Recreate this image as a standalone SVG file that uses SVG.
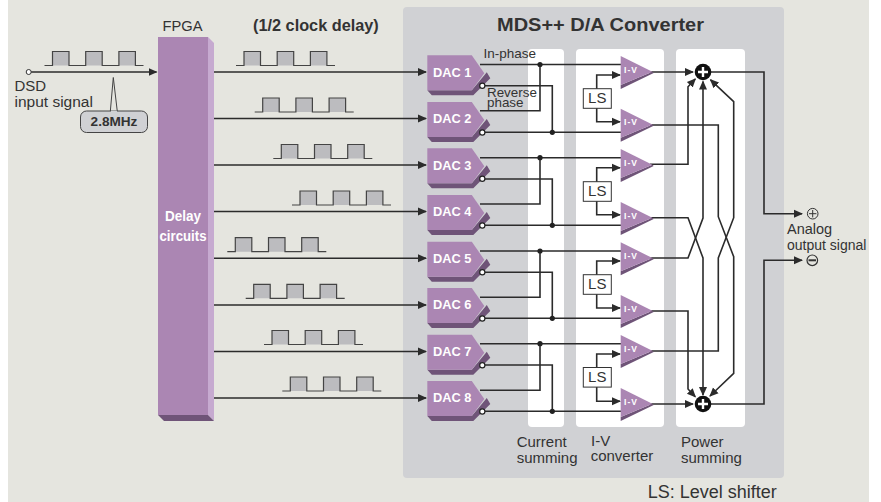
<svg xmlns="http://www.w3.org/2000/svg" xmlns:xlink="http://www.w3.org/1999/xlink" width="881" height="502" viewBox="0 0 881 502">
<style>
text{font-family:"Liberation Sans",Arial,sans-serif;fill:#333}
.b{font-weight:bold}
.w{fill:#fff;font-weight:bold}
.t{font-size:15px}
.dac{font-size:12.8px;fill:#fff;font-weight:bold}
.wire{fill:none;stroke:#2b2b2b;stroke-width:1.6}
.arr{marker-end:url(#ah)}
.dot{fill:#222}
.wave{fill:#bcbcbf}
.waveline{fill:none;stroke:#444;stroke-width:1.2}
</style>
<defs>
<marker id="ah" markerUnits="userSpaceOnUse" markerWidth="10" markerHeight="10" viewBox="0 0 10 10" refX="8" refY="5" orient="auto"><path d="M0 1L9 5L0 9Z" fill="#2b2b2b"/></marker>
<g id="pulse">
<path class="wave" d="M8 14V0H24.5V14ZM41.2 14V0H57.7V14ZM74.4 14V0H90.9V14Z"/>
<path class="waveline" d="M0 14H8V0H24.5V14H41.2V0H57.7V14H74.4V0H90.9V14H99"/>
</g>
<g id="dacshape">
<path d="M0 35L4.5 40H46L63 23L59.5 17L44.5 35Z" fill="#6f5478"/>
<path d="M0 0H44.5L57 18L44.5 35H0Z" fill="#ab86b3"/>
<circle cx="55" cy="30.5" r="2.6" fill="#fff" stroke="#222" stroke-width="1.2"/>
</g>
<g id="ivshape">
<path d="M0 29L0 33L33 17L31.7 15.7Z" fill="#6f5478"/>
<path d="M0 0L31.7 15.7L0 29Z" fill="#ab86b3"/>
</g>
<g id="sum">
<circle r="8.3" fill="#111"/>
<path d="M-5 0H5M0 -5V5" stroke="#fff" stroke-width="2.4"/>
</g>
</defs>
<rect x="8" y="0" width="861" height="502" fill="#e5e5df"/>
<g id="panels">
<rect x="403" y="7" width="381" height="471" rx="4" fill="#d0d1d4"/>
<rect x="528" y="49" width="36" height="378" rx="4" fill="#fff"/>
<rect x="576" y="49" width="88" height="378" rx="4" fill="#fff"/>
<rect x="676" y="49" width="69" height="378" rx="4" fill="#fff"/>
</g>
<g id="waveforms">
<use href="#pulse" x="44.5" y="51.5"/>
<use href="#pulse" x="236" y="51.5"/>
<use href="#pulse" x="254.7" y="98"/>
<use href="#pulse" x="273.3" y="144.5"/>
<use href="#pulse" x="292" y="191"/>
<use href="#pulse" x="227.3" y="237.7"/>
<use href="#pulse" x="245.7" y="284.3"/>
<use href="#pulse" x="264" y="330.5"/>
<use href="#pulse" x="282.3" y="377"/>
</g>
<g id="connectors">
<path class="wire arr" d="M31 72H156.5"/>
<path class="wire arr" d="M212 72H426"/>
<path class="wire arr" d="M212 118.5H426"/>
<path class="wire arr" d="M212 165H426"/>
<path class="wire arr" d="M212 211.5H426"/>
<path class="wire arr" d="M212 258.3H426"/>
<path class="wire arr" d="M212 305H426"/>
<path class="wire arr" d="M212 351.5H426"/>
<path class="wire arr" d="M212 398H426"/>
<path class="wire" d="M480 64.5H621M480 110.7H540V64.5M482 85.7H552.3V132.3M482 132.3H621"/>
<path class="wire" d="M480 157.7H621M480 204H540V157.7M482 179H552.3V225.3M482 225.3H621"/>
<path class="wire" d="M480 251H621M480 297.3H540V251M482 272.3H552.3V318.3M482 318.3H621"/>
<path class="wire" d="M480 343.7H621M480 390.3H540V343.7M482 365H552.3V411.3M482 411.3H621"/>
<path class="wire arr" d="M596.7 89V75H620"/>
<path class="wire arr" d="M596.7 108V121.7H620"/>
<path class="wire arr" d="M596.7 182V167.7H620"/>
<path class="wire arr" d="M596.7 201V214.7H620"/>
<path class="wire arr" d="M596.7 275V261H620"/>
<path class="wire arr" d="M596.7 294V308H620"/>
<path class="wire arr" d="M596.7 367V354H620"/>
<path class="wire arr" d="M596.7 387V401.3H620"/>
<path class="wire arr" d="M650 72H693"/>
<path class="wire arr" d="M650 404H693"/>
<path class="wire arr" d="M650 164.3H688V86.7L695.3 79"/>
<path class="wire arr" d="M650 125H718.3V216.7L733.7 256.7V373.3L710 396"/>
<path class="wire arr" d="M650 217.7H688L703 258V395"/>
<path class="wire arr" d="M650 258H688L703 218V81.5"/>
<path class="wire arr" d="M650 351H718.3V258L733.7 217.7V101.7L710.5 79.8"/>
<path class="wire arr" d="M650 311H688V389L695.3 396.7"/>
<path class="wire arr" d="M711 72H764V213.7H802"/>
<path class="wire arr" d="M711 404H764V260.3H802"/>
<circle class="dot" cx="540" cy="64.5" r="2.6"/><circle class="dot" cx="552.3" cy="132.3" r="2.6"/>
<circle class="dot" cx="540" cy="157.7" r="2.6"/><circle class="dot" cx="552.3" cy="225.3" r="2.6"/>
<circle class="dot" cx="540" cy="251" r="2.6"/><circle class="dot" cx="552.3" cy="318.3" r="2.6"/>
<circle class="dot" cx="540" cy="343.7" r="2.6"/><circle class="dot" cx="552.3" cy="411.3" r="2.6"/>
</g>
<g id="input">
<circle cx="28.7" cy="72" r="2.5" fill="#fff" stroke="#333" stroke-width="1"/>
<text x="14.5" y="91" font-size="15">DSD</text>
<text x="14.5" y="107" font-size="15.5">input signal</text>
</g>
<g id="clock-callout">
<path d="M110.3 111.5L113.3 77.5L117.3 111.5" fill="#e5e5df" stroke="#444" stroke-width="1"/>
<rect x="80.5" y="111" width="67" height="21.5" rx="6" fill="#d0d1d4" stroke="#444" stroke-width="1"/>
<path d="M111 111.5H117" stroke="#d0d1d4" stroke-width="1.4"/>
<text class="b" x="114" y="126" font-size="13.6" text-anchor="middle">2.8MHz</text>
</g>
<g id="fpga">
<path d="M208 37L214 43V421L208 415Z" fill="#c6aad0"/>
<path d="M158 415H208L214 421H164Z" fill="#6f5478"/>
<rect x="158" y="37" width="50" height="378" fill="#ab86b3"/>
<text x="162.5" y="31" font-size="14.7">FPGA</text>
<text class="w" x="183" y="220.7" font-size="15" text-anchor="middle" textLength="36" lengthAdjust="spacingAndGlyphs">Delay</text>
<text class="w" x="183" y="240.7" font-size="15" text-anchor="middle" textLength="47" lengthAdjust="spacingAndGlyphs">circuits</text>
</g>
<g id="dac1"><use href="#dacshape" x="427.3" y="55.3"/><text class="dac" x="433" y="76.7">DAC 1</text></g>
<g id="dac2"><use href="#dacshape" x="427.3" y="102"/><text class="dac" x="433" y="123.4">DAC 2</text></g>
<g id="dac3"><use href="#dacshape" x="427.3" y="148.3"/><text class="dac" x="433" y="169.7">DAC 3</text></g>
<g id="dac4"><use href="#dacshape" x="427.3" y="195"/><text class="dac" x="433" y="216.4">DAC 4</text></g>
<g id="dac5"><use href="#dacshape" x="427.3" y="241.7"/><text class="dac" x="433" y="263.1">DAC 5</text></g>
<g id="dac6"><use href="#dacshape" x="427.3" y="288"/><text class="dac" x="433" y="309.4">DAC 6</text></g>
<g id="dac7"><use href="#dacshape" x="427.3" y="334.7"/><text class="dac" x="433" y="356.1">DAC 7</text></g>
<g id="dac8"><use href="#dacshape" x="427.3" y="381"/><text class="dac" x="433" y="402.4">DAC 8</text></g>
<g id="iv1"><use href="#ivshape" x="620.7" y="56"/></g>
<g id="iv2"><use href="#ivshape" x="620.7" y="108.7"/></g>
<g id="iv3"><use href="#ivshape" x="620.7" y="149"/></g>
<g id="iv4"><use href="#ivshape" x="620.7" y="202"/></g>
<g id="iv5"><use href="#ivshape" x="620.7" y="242.3"/></g>
<g id="iv6"><use href="#ivshape" x="620.7" y="295"/></g>
<g id="iv7"><use href="#ivshape" x="620.7" y="335"/></g>
<g id="iv8"><use href="#ivshape" x="620.7" y="388"/></g>
<g font-size="8.5">
<text class="w" x="624" y="72.5" textLength="13">I-V</text>
<text class="w" x="624" y="125.2" textLength="13">I-V</text>
<text class="w" x="624" y="165.5" textLength="13">I-V</text>
<text class="w" x="624" y="218.5" textLength="13">I-V</text>
<text class="w" x="624" y="258.8" textLength="13">I-V</text>
<text class="w" x="624" y="311.5" textLength="13">I-V</text>
<text class="w" x="624" y="351.5" textLength="13">I-V</text>
<text class="w" x="624" y="404.5" textLength="13">I-V</text>
</g>
<g id="ls1"><rect x="583.3" y="88.7" width="28" height="19.6" fill="#fff" stroke="#333"/><text x="597.3" y="103.3" font-size="15" text-anchor="middle">LS</text></g>
<g id="ls2"><rect x="583.3" y="181.7" width="28" height="19.6" fill="#fff" stroke="#333"/><text x="597.3" y="196.3" font-size="15" text-anchor="middle">LS</text></g>
<g id="ls3"><rect x="583.3" y="274.7" width="28" height="19.6" fill="#fff" stroke="#333"/><text x="597.3" y="289.3" font-size="15" text-anchor="middle">LS</text></g>
<g id="ls4"><rect x="583.3" y="367.5" width="28" height="19.6" fill="#fff" stroke="#333"/><text x="597.3" y="382.1" font-size="15" text-anchor="middle">LS</text></g>
<g id="sum-top"><use href="#sum" x="703" y="72"/></g>
<g id="sum-bottom"><use href="#sum" x="703" y="404"/></g>
<g id="out-plus"><circle cx="812.7" cy="213.7" r="5.3" fill="none" stroke="#333" stroke-width="1"/><path d="M809 213.7H816.4M812.7 210V217.4" stroke="#333" stroke-width="1"/></g>
<g id="out-minus"><circle cx="812.3" cy="260.3" r="5.3" fill="none" stroke="#333" stroke-width="1.2"/><path d="M808.5 260.3H816" stroke="#333" stroke-width="2"/></g>
<g id="labels">
<text class="b" x="253" y="30.7" font-size="16.3">(1/2 clock delay)</text>
<text class="b" x="497" y="31" font-size="18" textLength="207" lengthAdjust="spacingAndGlyphs">MDS++ D/A Converter</text>
<text x="483.5" y="58.3" font-size="13.5">In-phase</text>
<text x="487" y="96.7" font-size="13.4">Reverse</text>
<text x="487" y="107.3" font-size="13.4">phase</text>
<text class="t" x="516.7" y="447">Current</text>
<text class="t" x="516.7" y="463.3">summing</text>
<text class="t" x="591" y="446.3">I-V</text>
<text class="t" x="590.7" y="461">converter</text>
<text class="t" x="681" y="447">Power</text>
<text class="t" x="681" y="463.3">summing</text>
<text x="787" y="234.3" font-size="14.5">Analog</text>
<text x="787" y="250" font-size="14">output signal</text>
<text x="647.7" y="498" font-size="18">LS: Level shifter</text>
</g>
</svg>
